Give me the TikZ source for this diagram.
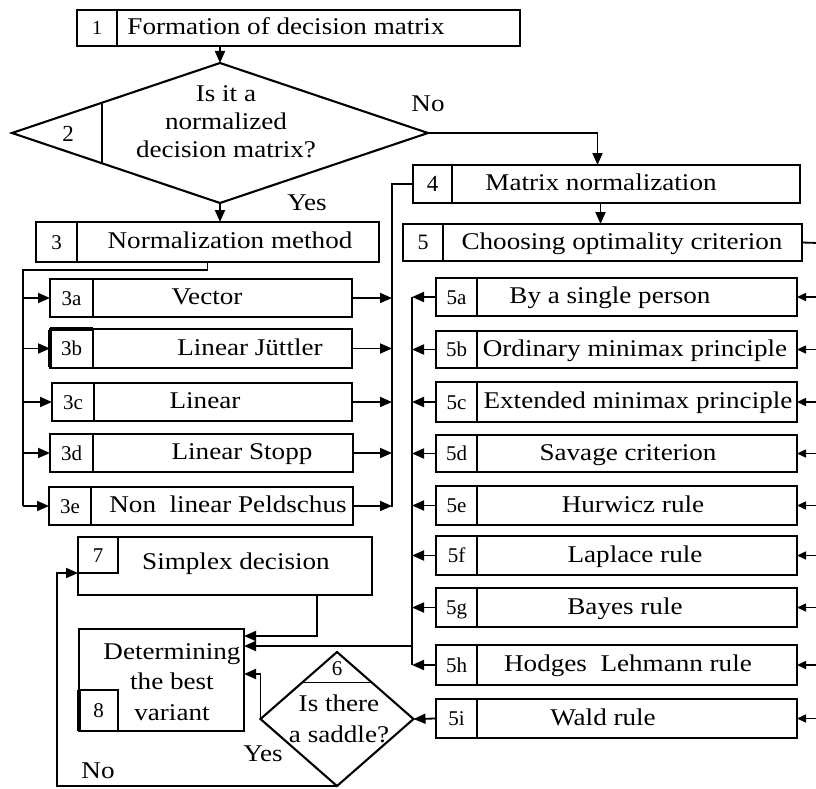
\documentclass[tikz,border=0pt]{standalone}
\usepackage{fontspec}
\setmainfont{Liberation Serif}[FakeStretch=1.13]
\newfontfamily\numfont{Liberation Serif}
\usetikzlibrary{arrows.meta,shapes.geometric,calc}
\tikzset{
 boxst/.style={draw, line width=2.1pt, inner sep=0pt, outer sep=0pt},
 divst/.style={line width=1.7pt},
 numst/.style={inner sep=0pt, font=\numfont\fontsize{21}{23}\selectfont, text height=14.5pt, text depth=0.5pt},
 txtst/.style={inner sep=0pt, font=\fontsize{24}{28}\selectfont, text height=17pt, text depth=4pt},
 mtxt/.style={inner sep=0pt, align=center, font=\fontsize{24}{28}\selectfont},
 conn/.style={line width=1.8pt},
 arr/.style={line width=1.8pt, -{Triangle[length=12pt,width=10pt]}},
 sarr/.style={line width=1.5pt, -{Triangle[length=9pt,width=8pt]}},
 dia/.style={draw, diamond, line width=2.1pt, inner sep=0pt, outer sep=0pt},
}
\newcommand\mkbox[9]{%
  \node[boxst, minimum width={(#4-#2)*1pt}, minimum height={(#5-#3)*1pt}, anchor=north west] (#1) at (#2,#3) {};
  \draw[divst] (#6,#3) -- (#6,#5);
  \node[numst] (#1n) at ({(#2+#6)/2},{(#3+#5)/2}) {#7};
  \node[txtst] (#1t) at (#8,{(#3+#5)/2}) {#9};
}
\begin{document}
\begin{tikzpicture}[x=1pt,y=-1pt]
\useasboundingbox (0,0) rectangle (816,789);
\fill[white] (0,0) rectangle (816,789);

% box 1
\mkbox{n1}{77}{10}{520}{46}{117}{\fontsize{20}{22}\selectfont 1}{286}{Formation of decision matrix}

% diamond 2
\node[dia, minimum width=416pt, minimum height=140pt] (d2) at (220,133) {};
\draw[divst] (102,102.7) -- (102,163.3);
\node[numst, font=\numfont\fontsize{23}{24}\selectfont] (d2n) at (68,134) {2};
\node[mtxt] (d2t) at (226,122) {Is it a\\normalized\\decision matrix?};
\node[txtst] (lno1) at (428,105) {No};
\node[txtst] (lyes1) at (307,204) {Yes};

% boxes 3, 4, 5
\mkbox{n3}{36}{222}{379}{262}{77}{\fontsize{21}{22}\selectfont 3}{230}{Normalization method}
\mkbox{n4}{413}{165}{800}{203}{452}{\fontsize{23}{24}\selectfont 4}{601}{Matrix normalization}
\mkbox{n5}{403}{224}{802}{261}{443}{\fontsize{22}{24}\selectfont 5}{622}{Choosing optimality criterion}

% 3a-3e
\mkbox{n3a}{50}{279}{352}{317}{93}{3a}{207}{Vector}
\mkbox{n3b}{50}{329}{352}{368}{93}{3b}{250}{Linear Jüttler}
\mkbox{n3c}{52}{383}{352}{421}{94}{3c}{205}{Linear}
\mkbox{n3d}{50}{434}{353}{472}{93}{3d}{242}{Linear Stopp}
\mkbox{n3e}{49}{487}{353}{525}{91}{3e}{228}{Non~~linear Peldschus}
\draw[line width=3.2pt] (50,330) -- (50,367) (50,329) -- (93,329);

% 5a-5i
\mkbox{n5a}{436}{278}{797}{316}{477}{5a}{610}{By a single person}
\mkbox{n5b}{436}{331}{797}{368}{477}{5b}{635}{Ordinary minimax principle}
\mkbox{n5c}{436}{382}{797}{422}{477}{5c}{638}{Extended minimax principle}
\mkbox{n5d}{436}{435}{797}{472}{477}{5d}{628}{Savage criterion}
\mkbox{n5e}{436}{486}{797}{525}{477}{5e}{633}{Hurwicz rule}
\mkbox{n5f}{436}{536}{797}{575}{477}{5f}{635}{Laplace rule}
\mkbox{n5g}{436}{588}{797}{627}{477}{5g}{625}{Bayes rule}
\mkbox{n5h}{436}{645}{797}{685}{477}{5h}{628}{Hodges~~Lehmann rule}
\mkbox{n5i}{436}{699}{797}{738}{477}{5i}{603}{Wald rule}

% box 7
\node[boxst, minimum width=294pt, minimum height=58pt, anchor=north west] (n7) at (78,537) {};
\node[boxst, numst, minimum width=40pt, minimum height=36pt, anchor=north west] (n7n) at (78,537) {7};
\node[txtst] (n7t) at (236,563) {Simplex decision};

% box 8
\node[boxst, minimum width=165pt, minimum height=102pt, anchor=north west] (n8) at (79,629) {};
\node[boxst, numst, minimum width=39pt, minimum height=41pt, anchor=south west] (n8n) at (79,731) {8};
\draw[line width=3.2pt] (79,690) -- (79,731);
\node[mtxt, font=\fontsize{24}{30.5}\selectfont] (n8t) at (172,682) {Determining\\the best\\variant};

% diamond 6
\node[dia, minimum width=153pt, minimum height=134pt] (d6) at (337,719) {};
\draw[line width=0.8pt] (303,682) -- (371,682);
\node[numst] (d6n) at (337,668) {6};
\node[mtxt, font=\fontsize{24}{31}\selectfont] (d6t) at (339,719) {Is there\\a saddle?};
\node[txtst] (lyes2) at (263,755) {Yes};
\node[txtst] (lno2) at (98,772) {No};

% connectors top
\draw[arr] (d2.north |- n1.south) -- (d2.north);
\draw[arr] (d2.south) -- (d2.south |- n3.north);
\draw[arr] (d2.east) -| ([xshift=-9pt]n4.north);
\draw[arr] ([xshift=-6pt]n4.south) -- ([xshift=-6pt]n4.south |- n5.north);

% 3 bus
\coordinate (bL) at (23,270);
\draw[conn] (n3.south) |- (bL) -- (bL |- n3e);
\foreach \b in {n3a,n3b,n3c,n3d,n3e} {
  \draw[arr] (bL |- \b) -- (\b.west);
}
\coordinate (bR) at (392,507);
\draw[conn] (n4.west) -| (bR);
\foreach \b in {n3a,n3b,n3c,n3d,n3e} {
  \draw[arr] (\b.east) -- (bR |- \b);
}

% 5 buses
\coordinate (b5) at (412,665);
\draw[conn] (b5 |- n5a) -- (b5);
\foreach \b in {n5a,n5b,n5c,n5d,n5e,n5f,n5g,n5h} {
  \draw[arr] (\b.west) -- (b5 |- \b);
}
\coordinate (bR5) at (818,243);
\draw[conn] (n5.east) -- (bR5) -- (bR5 |- n5i);
\foreach \b in {n5a,n5b,n5c,n5d,n5e,n5f,n5g,n5h,n5i} {
  \draw[sarr] (bR5 |- \b) -- (\b.east);
}

% to box 8
\coordinate (c646) at (0,646);
\draw[arr] (b5 |- c646) -- (n8.east |- c646);
\coordinate (c7) at (317,636);
\draw[arr] (n7.south -| c7) |- (n8.east |- c7);
\coordinate (c6) at (0,674);
\draw[arr] (d6.west) |- (n8.east |- c6);
\draw[arr] (n5i.west) -- (d6.east);

% No loop
\coordinate (cno) at (57,573);
\draw[arr] (d6.south) -| (cno) -- (n7.west |- cno);
\end{tikzpicture}
\end{document}
